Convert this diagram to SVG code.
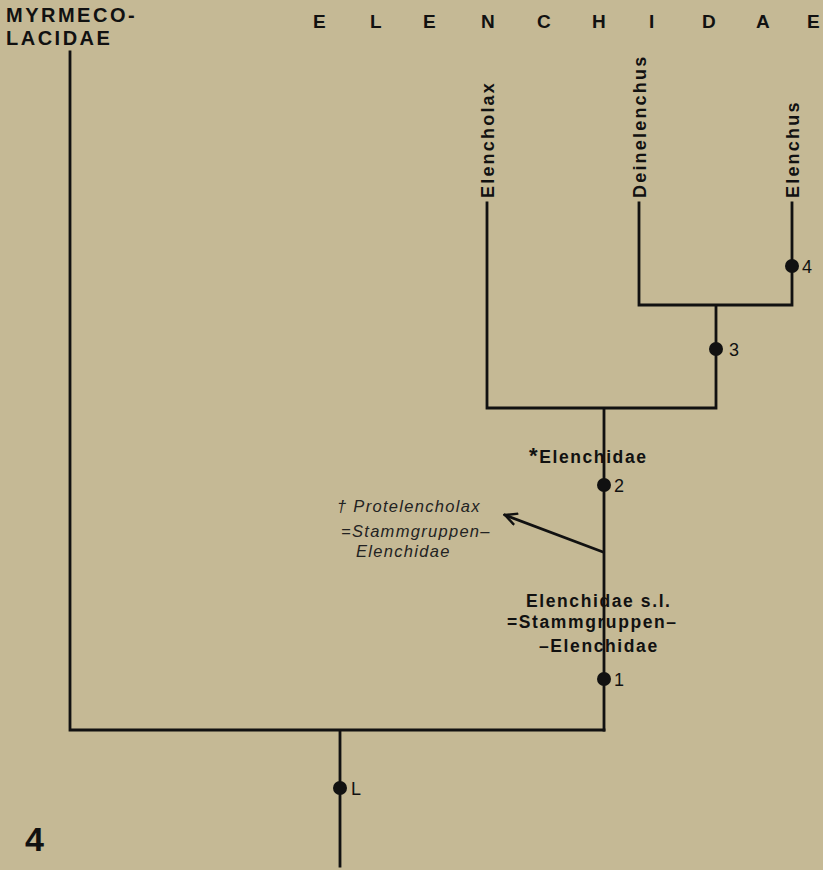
<svg xmlns="http://www.w3.org/2000/svg" width="823" height="870" viewBox="0 0 823 870">
<style>
.ln{stroke:#111;stroke-width:2.8;fill:none;stroke-linecap:square}
.dot{fill:#111}
.b{font-family:"Liberation Sans",Arial,sans-serif;font-weight:bold;fill:#111}
.tax{font-size:18px;letter-spacing:2.2px}
.lab{font-size:17.5px;letter-spacing:1.6px}
.num{font-family:"Liberation Sans",Arial,sans-serif;font-size:18px;fill:#111}
.it{font-family:"Liberation Sans",Arial,sans-serif;font-style:italic;font-size:16.5px;fill:#222;letter-spacing:1.3px}
</style>
<defs>
<marker id="ah" markerWidth="16" markerHeight="14" refX="14" refY="7" orient="auto" markerUnits="userSpaceOnUse">
<path d="M2,1 L14,7 L2,13" fill="none" stroke="#111" stroke-width="2.4"/>
</marker>
</defs>
<rect width="823" height="870" fill="#c5b995"/>
<g id="header">
<text class="b" x="6" y="22" font-size="20" letter-spacing="2.5">MYRMECO-</text>
<text class="b" x="6" y="45" font-size="20" letter-spacing="2.5">LACIDAE</text>
<text class="b" font-size="19" y="28" x="313 370 423 481 537 592 649 702 756 807">ELENCHIDAE</text>
</g>
<g id="connectors">
<path class="ln" d="M70,52 V730 H604 M340,730 V866"/>
<path class="ln" d="M604,730 V408 M487,408 H716 M487,408 V203 M716,408 V305 M639,305 H792 M639,305 V203 M792,305 V203"/>
<line class="ln" x1="603" y1="552" x2="505" y2="515" marker-end="url(#ah)" stroke-linecap="butt"/>
</g>
<g id="node-L"><circle class="dot" cx="340" cy="788" r="7"/><text class="num" x="351" y="795">L</text></g>
<g id="node-1"><circle class="dot" cx="604" cy="679" r="7"/><text class="num" x="614" y="686">1</text></g>
<g id="node-2"><circle class="dot" cx="604" cy="485" r="7"/><text class="num" x="614" y="492">2</text></g>
<g id="node-3"><circle class="dot" cx="716" cy="349" r="7"/><text class="num" x="729" y="356">3</text></g>
<g id="node-4"><circle class="dot" cx="792" cy="266" r="7"/><text class="num" x="802" y="273">4</text></g>
<g id="taxon-elencholax"><text class="b tax" transform="translate(494,198) rotate(-90)">Elencholax</text></g>
<g id="taxon-deinelenchus"><text class="b tax" transform="translate(646,198) rotate(-90)">Deinelenchus</text></g>
<g id="taxon-elenchus"><text class="b tax" transform="translate(799,198) rotate(-90)">Elenchus</text></g>
<g id="label-crown">
<text class="b lab" x="529" y="463"><tspan font-size="22">*</tspan>Elenchidae</text>
</g>
<g id="label-protelencholax">
<text class="it" x="337" y="512">† Protelencholax</text>
<text class="it" x="341" y="537">=Stammgruppen–</text>
<text class="it" x="356" y="557">Elenchidae</text>
</g>
<g id="label-sl">
<text class="b lab" x="526" y="607">Elenchidae s.l.</text>
<text class="b lab" x="507" y="628">=Stammgruppen–</text>
<text class="b lab" x="539" y="652">–Elenchidae</text>
</g>
<g id="figno"><text class="b" x="25" y="851" font-size="34">4</text></g>
</svg>
